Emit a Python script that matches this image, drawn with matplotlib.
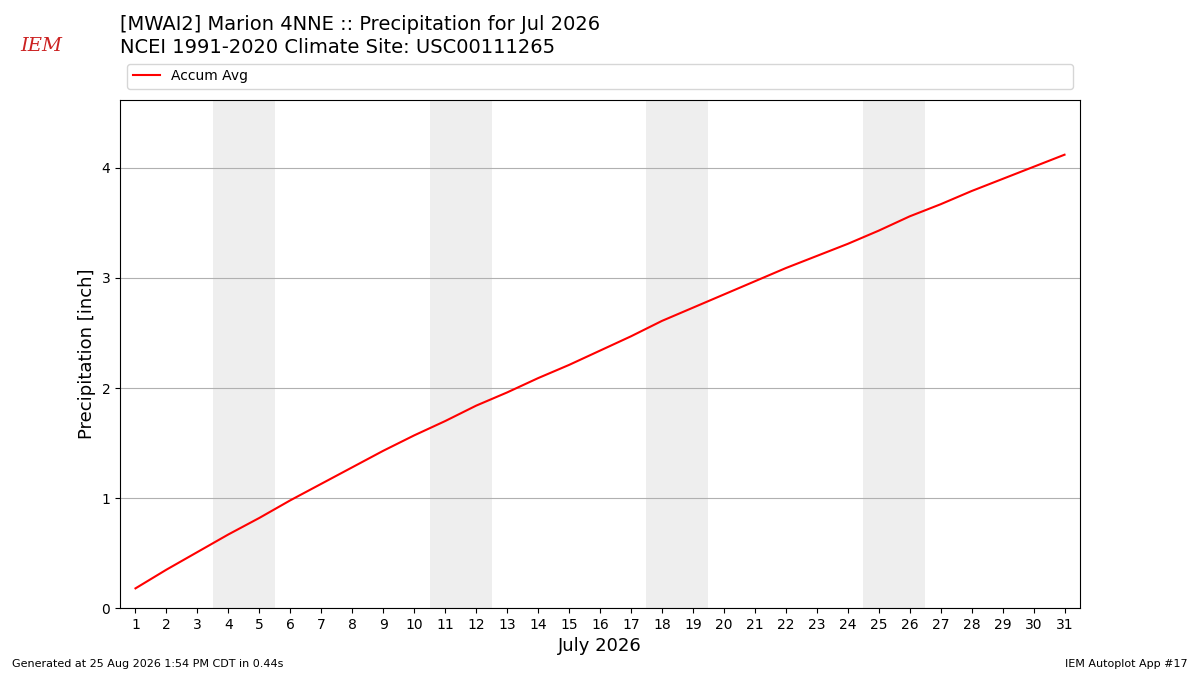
import matplotlib
matplotlib.use("Agg")
import matplotlib.pyplot as plt

days = list(range(1, 32))
accum = [0.18, 0.35, 0.51, 0.67, 0.82, 0.98, 1.13, 1.28, 1.43, 1.57, 1.70, 1.84,
         1.96, 2.09, 2.21, 2.34, 2.47, 2.61, 2.73, 2.85, 2.97, 3.09, 3.20, 3.31,
         3.43, 3.56, 3.67, 3.79, 3.90, 4.01, 4.12]
weekends = [(3.5, 5.5), (10.5, 12.5), (17.5, 19.5), (24.5, 26.5)]

fig = plt.figure(figsize=(12, 6.75), dpi=100)
ax = fig.add_axes([0.1, 0.099, 0.8, 0.753])
for a, b in weekends:
    ax.axvspan(a, b, color="#eeeeee", zorder=0, lw=0)
line, = ax.plot(days, accum, color="red", label="Accum Avg", zorder=3)
ax.set_xlim(0.5, 31.5)
ax.set_ylim(0, 4.618)
ax.set_xticks(days)
ax.set_yticks([0, 1, 2, 3, 4])
ax.grid(axis="y", color="#b0b0b0", lw=0.8)
ax.set_axisbelow(True)
ax.set_xlabel("July 2026", fontsize=13)
ax.set_ylabel("Precipitation [inch]", fontsize=13)
ax.tick_params(labelsize=10)

fig.legend(handles=[line], loc="lower left", bbox_to_anchor=(0.1, 0.858, 0.8, 0.04),
           mode="expand", ncol=1, fontsize=10, frameon=True)

fig.text(0.1, 0.95, "[MWAI2] Marion 4NNE :: Precipitation for Jul 2026", fontsize=14, va="bottom")
fig.text(0.1, 0.915, "NCEI 1991-2020 Climate Site: USC00111265", fontsize=14, va="bottom")
fig.text(0.017, 0.925, "IEM", fontsize=14, color="#cc2222", style="italic", family="serif")
fig.text(0.01, 0.012, "Generated at 25 Aug 2026 1:54 PM CDT in 0.44s", fontsize=8)
fig.text(0.99, 0.012, "IEM Autoplot App #17", fontsize=8, ha="right")
fig.savefig("out.png", dpi=100)
